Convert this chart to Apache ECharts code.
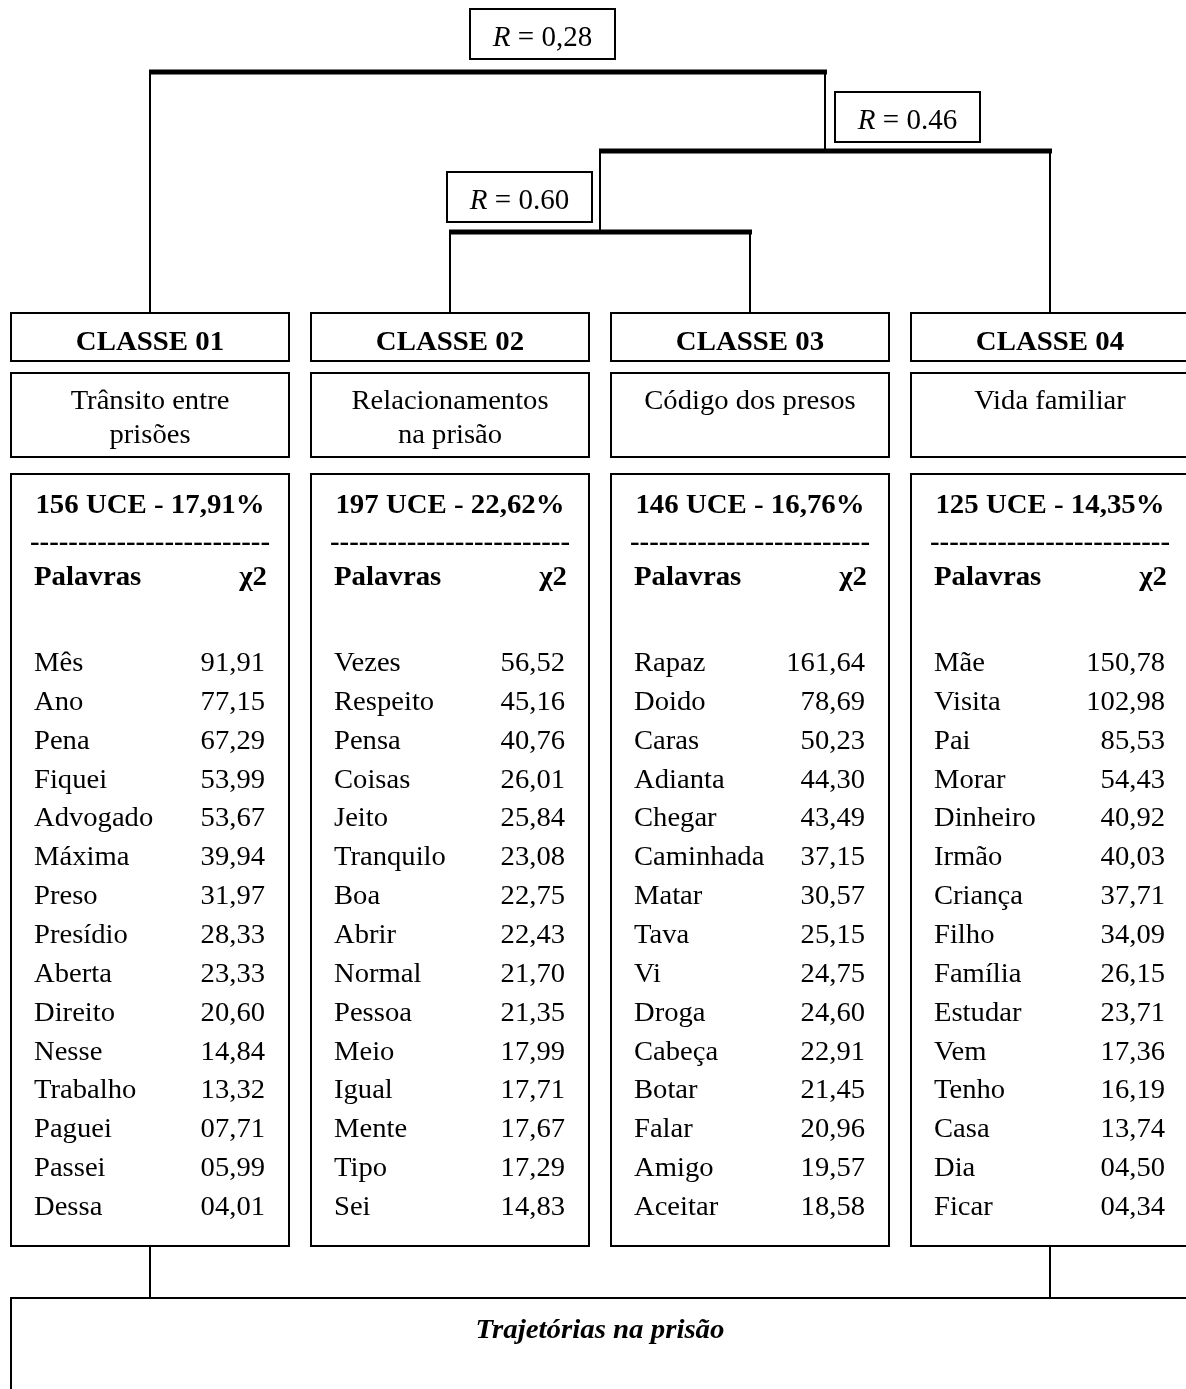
<!DOCTYPE html>
<html>
<head>
<meta charset="utf-8">
<script src="https://cdn.jsdelivr.net/npm/echarts@6/dist/echarts.min.js"></script>
<style>
html,body{margin:0;padding:0;background:#fff;}
#chart{width:1186px;height:1389px;}
</style>
</head>
<body>
<div id="chart"></div>
<script>
// ---------------- DATA ----------------
const classNames = ['CLASSE 01', 'CLASSE 02', 'CLASSE 03', 'CLASSE 04'];
const classThemes = [['Trânsito entre', 'prisões'], ['Relacionamentos', 'na prisão'], ['Código dos presos'], ['Vida familiar']];
const uceCounts = [156, 197, 146, 125];
const uceShares = [17.91, 22.62, 16.76, 14.35];

const words01 = ['Mês', 'Ano', 'Pena', 'Fiquei', 'Advogado', 'Máxima', 'Preso', 'Presídio', 'Aberta', 'Direito', 'Nesse', 'Trabalho', 'Paguei', 'Passei', 'Dessa'];
const chi01 = [91.91, 77.15, 67.29, 53.99, 53.67, 39.94, 31.97, 28.33, 23.33, 20.60, 14.84, 13.32, 7.71, 5.99, 4.01];

const words02 = ['Vezes', 'Respeito', 'Pensa', 'Coisas', 'Jeito', 'Tranquilo', 'Boa', 'Abrir', 'Normal', 'Pessoa', 'Meio', 'Igual', 'Mente', 'Tipo', 'Sei'];
const chi02 = [56.52, 45.16, 40.76, 26.01, 25.84, 23.08, 22.75, 22.43, 21.70, 21.35, 17.99, 17.71, 17.67, 17.29, 14.83];

const words03 = ['Rapaz', 'Doido', 'Caras', 'Adianta', 'Chegar', 'Caminhada', 'Matar', 'Tava', 'Vi', 'Droga', 'Cabeça', 'Botar', 'Falar', 'Amigo', 'Aceitar'];
const chi03 = [161.64, 78.69, 50.23, 44.30, 43.49, 37.15, 30.57, 25.15, 24.75, 24.60, 22.91, 21.45, 20.96, 19.57, 18.58];

const words04 = ['Mãe', 'Visita', 'Pai', 'Morar', 'Dinheiro', 'Irmão', 'Criança', 'Filho', 'Família', 'Estudar', 'Vem', 'Tenho', 'Casa', 'Dia', 'Ficar'];
const chi04 = [150.78, 102.98, 85.53, 54.43, 40.92, 40.03, 37.71, 34.09, 26.15, 23.71, 17.36, 16.19, 13.74, 4.50, 4.34];

// dendrogram: leaves 0..3 are the classes, merge k creates node 4+k
const mergePairs = [[1, 2], [4, 3], [0, 5]];
const mergeRLabels = ['0.60', '0.46', '0,28'];

const footerTitle = 'Trajetórias na prisão';
const footerLinks = [0, 3];

// ---------------- LAYOUT ----------------
const FONT = "'Liberation Serif','Times New Roman',serif";
const L = {
  pitch: 300, boxW: 278,
  headerTop: 313, headerBottom: 361, headerY: 343,
  themeTop: 373, themeBottom: 457, themeY0: 402, themeStep: 34,
  listTop: 474, listBottom: 1246, uceY: 506, dashY: 543, headY: 578,
  rowY0: 664, rowStep: 38.85, padL: 23, padR: 24,
  footTop: 1298, footY: 1331,
  levelY: [232, 151, 72],
  bar: 5, thin: 2, boxLine: 2,
  labelW: 145, labelH: 50, labelFont: 29,
  labelPlace: ['leftOfNode', 'rightOfNode', 'mid'],
  stretch: 1.06, stretchBold: 1.03
};

const wordLists = [words01, words02, words03, words04];
const chiLists = [chi01, chi02, chi03, chi04];

const fmt = v => { const s = v.toFixed(2).replace('.', ','); return s.length < 5 ? '0' + s : s; };
const pct = v => v.toFixed(2).replace('.', ',') + '%';

function txt(x, y, text, opt) {
  const st = Object.assign({ text: text, fill: '#000', fontFamily: FONT, fontSize: 27, fontWeight: 'normal',
    align: 'left', verticalAlign: 'middle' }, opt || {});
  return { type: 'text', x: x, y: y, silent: true,
    scaleX: st.fontWeight === 'bold' ? L.stretchBold : L.stretch,
    style: st };
}
function rect(x, y, w, h) {
  return { type: 'rect', silent: true, shape: { x: x, y: y, width: w, height: h },
    style: { fill: 'none', stroke: '#000', lineWidth: L.boxLine } };
}
function line(x1, y1, x2, y2, w) {
  return { type: 'line', silent: true, shape: { x1: x1, y1: y1, x2: x2, y2: y2 },
    style: { stroke: '#000', lineWidth: w, lineCap: 'butt' } };
}

function nodeX(n) {
  if (n < 4) return n;
  const p = mergePairs[n - 4];
  return (nodeX(p[0]) + nodeX(p[1])) / 2;
}
function nodeBottomY(n) {
  return n < 4 ? L.headerTop : L.levelY[n - 4];
}

function renderClass(params, api) {
  const c = api.value(0);
  const cx = api.coord([c, 0])[0];
  const unit = api.size([1, 0])[0];
  const w = Math.round(unit * L.boxW / L.pitch);
  const l = Math.round(cx - w / 2), r = l + w;
  const Y = y => api.coord([c, y])[1];
  const ch = [];
  ch.push(rect(l, Y(L.headerTop), r - l, Y(L.headerBottom) - Y(L.headerTop)));
  ch.push(txt((l + r) / 2, Y(L.headerY), classNames[c], { fontWeight: 'bold', fontSize: 28, align: 'center' }));
  ch.push(rect(l, Y(L.themeTop), r - l, Y(L.themeBottom) - Y(L.themeTop)));
  classThemes[c].forEach((t, i) => {
    ch.push(txt((l + r) / 2, Y(L.themeY0 + i * L.themeStep), t, { align: 'center' }));
  });
  ch.push(rect(l, Y(L.listTop), r - l, Y(L.listBottom) - Y(L.listTop)));
  ch.push(txt((l + r) / 2, Y(L.uceY), uceCounts[c] + ' UCE - ' + pct(uceShares[c]), { fontWeight: 'bold', fontSize: 28, align: 'center' }));
  ch.push(txt((l + r) / 2, Y(L.dashY), '-------------------------', { fontWeight: 'bold', fontSize: 28, align: 'center' }));
  ch.push(txt(l + L.padL, Y(L.headY), 'Palavras', { fontWeight: 'bold', fontSize: 28 }));
  ch.push(txt(r - L.padR + 2, Y(L.headY), 'χ2', { fontWeight: 'bold', fontSize: 28, align: 'right' }));
  wordLists[c].forEach((wd, i) => {
    const y = Y(L.rowY0 + i * L.rowStep);
    ch.push(txt(l + L.padL, y, wd));
    ch.push(txt(r - L.padR, y, fmt(chiLists[c][i]), { align: 'right' }));
  });
  return { type: 'group', children: ch };
}

function renderMerge(params, api) {
  const k = params.dataIndex;
  const pair = mergePairs[k];
  const yk = api.coord([0, L.levelY[k]])[1];
  const xs = pair.map(n => Math.round(api.coord([nodeX(n), 0])[0]));
  const ch = [];
  ch.push(line(Math.min(xs[0], xs[1]) - 1, yk, Math.max(xs[0], xs[1]) + 2, yk, L.bar));
  pair.forEach((n, i) => {
    const yb = api.coord([0, nodeBottomY(n)])[1];
    ch.push(line(xs[i], yk, xs[i], yb, L.thin));
  });
  const node = 4 + k;
  const nx = api.coord([nodeX(node), 0])[0];
  let bx;
  const place = L.labelPlace[k];
  if (place === 'leftOfNode') bx = nx - 8 - L.labelW;
  else if (place === 'rightOfNode') bx = nx + 10;
  else bx = (xs[0] + xs[1]) / 2 - 18;
  const gap = [10, 9, 13][k];
  const by = yk - gap - L.labelH;
  ch.push(rect(Math.round(bx), Math.round(by), L.labelW, L.labelH));
  ch.push({ type: 'text', silent: true, x: Math.round(bx) + L.labelW / 2, y: by + L.labelH / 2 + 4,
    style: { text: '{i|R} = ' + mergeRLabels[k], fill: '#000', fontFamily: FONT, fontSize: L.labelFont,
      align: 'center', verticalAlign: 'middle',
      rich: { i: { fontStyle: 'italic', fontFamily: FONT, fontSize: L.labelFont, fill: '#000' } } } });
  return { type: 'group', children: ch };
}

function renderFooter(params, api) {
  const unit = api.size([1, 0])[0];
  const w = unit * L.boxW / L.pitch;
  const first = api.coord([0, 0])[0] - w / 2;
  const last = api.coord([3, 0])[0] + w / 2;
  const yTop = api.coord([0, L.footTop])[1];
  const ch = [];
  footerLinks.forEach(c => {
    const x = Math.round(api.coord([c, 0])[0]);
    ch.push(line(x, api.coord([c, L.listBottom])[1], x, yTop, L.thin));
  });
  ch.push(rect(Math.round(first), yTop, Math.round(last - first) + 20, 200));
  ch.push(txt((first + last) / 2, api.coord([0, L.footY])[1], footerTitle,
    { fontWeight: 'bold', fontStyle: 'italic', fontSize: 28, align: 'center' }));
  return { type: 'group', children: ch };
}

const chart = echarts.init(document.getElementById('chart'), null, { renderer: 'canvas' });
chart.setOption({
  animation: false,
  backgroundColor: '#fff',
  grid: { left: 0, top: 0, right: 0, bottom: 0 },
  xAxis: { type: 'value', min: -0.5, max: -0.5 + 1186 / L.pitch, show: false },
  yAxis: { type: 'value', min: 0, max: 1389, inverse: true, show: false },
  series: [
    { type: 'custom', clip: false, silent: true, data: classNames.map((_, i) => [i, 0]), renderItem: renderClass },
    { type: 'custom', clip: false, silent: true, data: mergePairs.map((p, k) => [nodeX(4 + k), L.levelY[k]]), renderItem: renderMerge },
    { type: 'custom', clip: false, silent: true, data: [[1.5, L.footY]], renderItem: renderFooter }
  ]
});
</script>
</body>
</html>
